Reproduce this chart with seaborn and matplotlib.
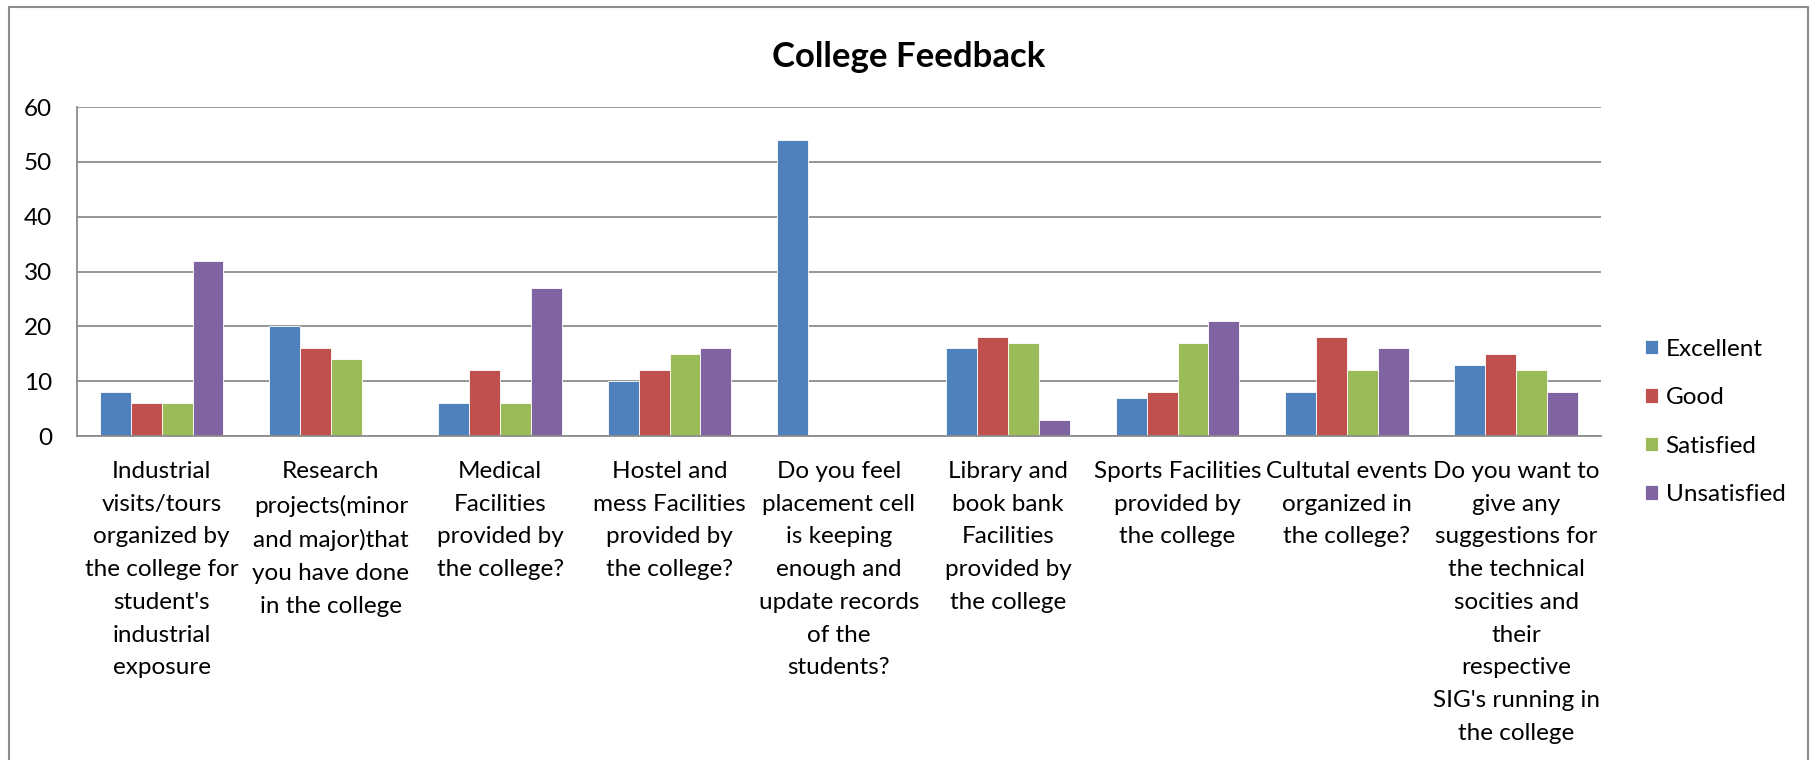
"""
College Feedback - grouped bar chart (Excel style look)
"""

# ============================================================================
# Import Required Libraries
# ============================================================================

import pandas as pd

import matplotlib
matplotlib.use("Agg")

import matplotlib.pyplot as plt
from matplotlib.patches import Rectangle

import seaborn as sns


# ============================================================================
# Chart Data
# ============================================================================

questions = [
    "Industrial\nvisits/tours\norganized by\nthe college for\nstudent's\nindustrial\nexposure",
    "Research\nprojects(minor\nand major)that\nyou have done\nin the college",
    "Medical\nFacilities\nprovided by\nthe college?",
    "Hostel and\nmess Facilities\nprovided by\nthe college?",
    "Do you feel\nplacement cell\nis keeping\nenough and\nupdate records\nof the\nstudents?",
    "Library and\nbook bank\nFacilities\nprovided by\nthe college",
    "Sports Facilities\nprovided by\nthe college",
    "Cultutal events\norganized in\nthe college?",
    "Do you want to\ngive any\nsuggestions for\nthe technical\nsocities and\ntheir\nrespective\nSIG's running in\nthe college",
]

ratings = ["Excellent", "Good", "Satisfied", "Unsatisfied"]

excellent = [8, 20, 6, 10, 54, 16, 7, 8, 13]
good = [6, 16, 12, 12, 0, 18, 8, 18, 15]
satisfied = [6, 14, 6, 15, 0, 17, 17, 12, 12]
unsatisfied = [32, 0, 27, 16, 0, 3, 21, 16, 8]

colors = ["#4F81BD", "#C0504D", "#9BBB59", "#8064A2"]


# ============================================================================
# Build Long Table
# ============================================================================

rows = []
for rating, values in zip(ratings, [excellent, good, satisfied, unsatisfied]):
    for q, v in zip(questions, values):
        rows.append({"Question": q, "Rating": rating, "Count": v})

feedback_df = pd.DataFrame(rows)


# ============================================================================
# Configure Visualization
# ============================================================================

sns.set_theme(style="white")

plt.rcParams["font.family"] = ["Lato", "DejaVu Sans"]
plt.rcParams["text.color"] = "black"

label_size = 17.5
grid_color = "#8C8C8C"

fig = plt.figure(figsize=(18.15, 7.6), dpi=100)

ax = fig.add_axes([0.0424, 0.4263, 0.8396, 0.4329])


# ============================================================================
# Draw Bars
# ============================================================================

sns.barplot(
    data=feedback_df,
    x="Question",
    y="Count",
    hue="Rating",
    order=questions,
    hue_order=ratings,
    palette=colors,
    width=0.73,
    edgecolor="white",
    linewidth=0.6,
    saturation=1,
    ax=ax
)

ax.set_ylim(0, 60)
ax.set_yticks([0, 10, 20, 30, 40, 50, 60])
ax.set_xlim(-0.5, len(questions) - 0.5)

ax.yaxis.grid(True, color=grid_color, linewidth=1.3)
ax.set_axisbelow(True)

for side in ["top", "right"]:
    ax.spines[side].set_visible(False)
for side in ["left", "bottom"]:
    ax.spines[side].set_color(grid_color)
    ax.spines[side].set_linewidth(1.3)

ax.set_xlabel("")
ax.set_ylabel("")

ax.tick_params(axis="y", length=0, pad=18, labelsize=label_size, colors="black")
ax.tick_params(axis="x", length=0, pad=18, labelsize=label_size, colors="black")

for lbl in ax.get_xticklabels():
    lbl.set_linespacing(1.69)
    lbl.set_multialignment("center")


# ============================================================================
# Legend, Title and Border
# ============================================================================

ax.legend(
    loc="center left",
    bbox_to_anchor=(0.9063, 0.445),
    bbox_transform=fig.transFigure,
    frameon=False,
    fontsize=label_size,
    handlelength=0.55,
    handleheight=0.55,
    handletextpad=0.3,
    labelspacing=1.13,
    borderpad=0,
    borderaxespad=0
)

fig.text(
    0.5008, 0.925,
    "College Feedback",
    ha="center",
    va="center",
    fontsize=25,
    fontweight="bold"
)

fig.patches.append(
    Rectangle(
        (9 / 1815, -0.05),
        (1808 - 9) / 1815,
        1.05 - 7 / 760,
        transform=fig.transFigure,
        fill=False,
        edgecolor="#8C8C8C",
        linewidth=1.5
    )
)

fig.savefig("out.png", dpi=100)
